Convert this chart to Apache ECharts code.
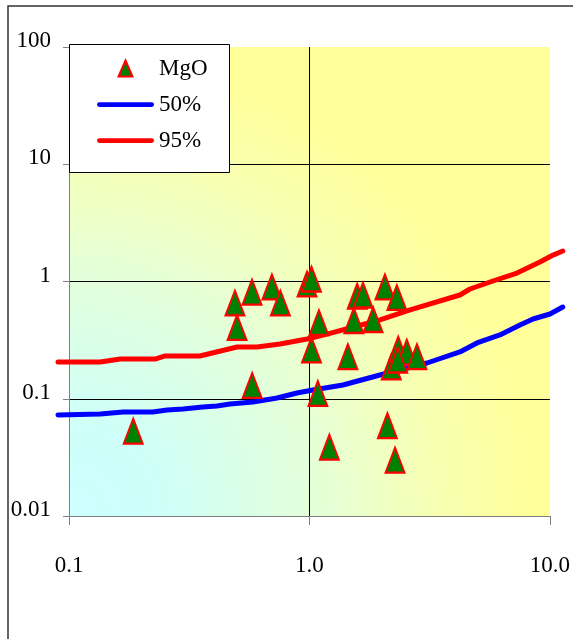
<!DOCTYPE html>
<html lang="en">
<head>
    <meta charset="UTF-8">
    <title>MgO</title>
    <script src="https://cdn.jsdelivr.net/npm/echarts@6/dist/echarts.min.js"></script>
    <style>
        html, body { margin: 0; padding: 0; background: #fff; }
        #chart { width: 573px; height: 639px; }
    </style>
</head>
<body>
    <div id="chart"></div>
    <script>
        // 数据点 (MgO)
        const mgoX = [0.185, 0.49, 0.50, 0.577, 0.578, 0.698, 0.757, 0.977, 1.02, 1.02, 1.095, 1.084, 1.21,
            1.445, 1.53, 1.58, 1.67, 1.84, 2.06, 2.31, 2.11, 2.27, 2.19, 2.34, 2.54, 2.80, 2.33];
        const mgoY = [0.053, 0.656, 0.406, 0.813, 0.130, 0.90, 0.656, 0.953, 1.05, 0.261, 0.447, 0.111, 0.0387,
            0.229, 0.465, 0.75, 0.767, 0.474, 0.90, 0.731, 0.059, 0.030, 0.187, 0.265, 0.25, 0.229, 0.214];

        // 50% 曲线
        const p50X = [0.090, 0.135, 0.168, 0.223, 0.256, 0.298, 0.360, 0.412, 0.467, 0.582, 0.733, 0.887,
            1.034, 1.377, 1.963, 3.08, 4.22, 4.97, 6.19, 7.50, 8.50, 10.0, 11.3];
        const p50Y = [0.0726, 0.0741, 0.0771, 0.0771, 0.0802, 0.0818, 0.085, 0.0867, 0.0901, 0.0937, 0.1014, 0.112,
            0.1187, 0.131, 0.1595, 0.2018, 0.2507, 0.299, 0.350, 0.426, 0.479, 0.528, 0.606];

        // 95% 曲线
        const p95X = [0.090, 0.135, 0.163, 0.228, 0.251, 0.350, 0.500, 0.605, 0.754, 0.977, 1.183, 1.473,
            1.963, 2.62, 4.22, 4.65, 5.79, 7.29, 9.08, 10.3, 11.3];
        const p95Y = [0.2056, 0.2056, 0.218, 0.218, 0.2316, 0.2316, 0.276, 0.276, 0.293, 0.323, 0.356, 0.401,
            0.470, 0.572, 0.767, 0.863, 1.01, 1.18, 1.466, 1.68, 1.82];

        const legendNames = ['MgO', '50%', '95%'];

        const zip = (xs, ys) => xs.map((x, i) => [x, ys[i]]);
        const font = 'Liberation Serif, Times New Roman, serif';

        // 主坐标区: x 0.1~10 (69px ~ 550px), 每个数量级 240.5px
        const decadePx = 240.5;
        const plotLeft = 69;
        // 曲线超出坐标轴范围, 用一个更宽的隐藏坐标区画
        const lineMin = 0.09, lineMax = 11.545;
        const lineLeft = plotLeft + decadePx * (Math.log10(lineMin) + 1);
        const lineRight = plotLeft + decadePx * (Math.log10(lineMax) + 1);

        const lineIcon = 'path://M5,0L115,0A5,5 0 0 1 115,10L5,10A5,5 0 0 1 5,0Z';
        const triIcon = 'path://M50,0L100,115L0,115Z';

        const chart = echarts.init(document.getElementById('chart'));

        const option = {
            animation: false,
            grid: [
                {
                    left: plotLeft, top: 47, right: 23, bottom: 123,
                    show: true,
                    borderWidth: 0,
                    backgroundColor: new echarts.graphic.RadialGradient(0, 1, 1, [
                        { offset: 0, color: '#ccffff' },
                        { offset: 0.2, color: '#cefff8' },
                        { offset: 0.5, color: '#e2ffdc' },
                        { offset: 0.8, color: '#f8ffb0' },
                        { offset: 1, color: '#ffff99' }
                    ])
                },
                { left: lineLeft, top: 47, right: 573 - lineRight, bottom: 123, show: false }
            ],
            xAxis: [
                {
                    type: 'log',
                    logBase: 10,
                    min: 0.1,
                    max: 10,
                    gridIndex: 0,
                    axisLine: { lineStyle: { color: '#808080', width: 1 } },
                    axisTick: { show: true, length: 9, lineStyle: { color: '#808080' } },
                    minorTick: { show: false },
                    splitLine: { show: true, showMinLine: false, showMaxLine: false, lineStyle: { color: '#000', width: 1 } },
                    axisLabel: {
                        margin: 38,
                        fontFamily: font,
                        fontSize: 23,
                        color: '#000',
                        formatter: v => v.toFixed(1)
                    }
                },
                { type: 'log', logBase: 10, min: lineMin, max: lineMax, gridIndex: 1, show: false }
            ],
            yAxis: [
                {
                    type: 'log',
                    logBase: 10,
                    min: 0.01,
                    max: 100,
                    gridIndex: 0,
                    axisLine: { show: true, lineStyle: { color: '#808080', width: 1 } },
                    axisTick: { show: true, length: 6, lineStyle: { color: '#808080' } },
                    splitLine: { show: true, showMinLine: false, showMaxLine: false, lineStyle: { color: '#000', width: 1 } },
                    axisLabel: {
                        margin: 18,
                        verticalAlign: 'bottom',
                        lineHeight: 12,
                        fontFamily: font,
                        fontSize: 23,
                        color: '#000',
                        formatter: v => v >= 1 ? String(Math.round(v)) : String(+v.toPrecision(1))
                    }
                },
                { type: 'log', logBase: 10, min: 0.01, max: 100, gridIndex: 1, show: false }
            ],
            legend: {
                orient: 'vertical',
                left: 97,
                top: 57,
                padding: 0,
                itemWidth: 57,
                itemHeight: 16,
                itemGap: 13,
                z: 11,
                data: [
                    { name: legendNames[0], icon: triIcon },
                    { name: legendNames[1], icon: lineIcon },
                    { name: legendNames[2], icon: lineIcon }
                ],
                textStyle: { fontFamily: font, fontSize: 23, color: '#000' }
            },
            graphic: [
                {
                    type: 'rect',
                    z: 10,
                    shape: { x: 69.5, y: 44.5, width: 160, height: 128 },
                    style: { fill: '#fff', stroke: '#000', lineWidth: 1 }
                },
                {
                    type: 'rect',
                    z: 10,
                    silent: true,
                    shape: { x: 8, y: 6, width: 700, height: 800 },
                    style: { fill: 'none', stroke: '#333', lineWidth: 1.5 }
                }
            ],
            series: [
                {
                    name: 'MgO',
                    type: 'scatter',
                    xAxisIndex: 0,
                    yAxisIndex: 0,
                    data: zip(mgoX, mgoY),
                    symbol: 'triangle',
                    symbolSize: [19, 25],
                    itemStyle: { color: '#008000', borderColor: '#ff0000', borderWidth: 2, opacity: 1 },
                    z: 4
                },
                {
                    name: '50%',
                    type: 'line',
                    xAxisIndex: 1,
                    yAxisIndex: 1,
                    data: zip(p50X, p50Y),
                    showSymbol: false,
                    symbol: 'none',
                    clip: false,
                    lineStyle: { color: '#0000ff', width: 5, cap: 'round', join: 'round' },
                    itemStyle: { color: '#0000ff' },
                    z: 3
                },
                {
                    name: '95%',
                    type: 'line',
                    xAxisIndex: 1,
                    yAxisIndex: 1,
                    data: zip(p95X, p95Y),
                    showSymbol: false,
                    symbol: 'none',
                    clip: false,
                    lineStyle: { color: '#ff0000', width: 5, cap: 'round', join: 'round' },
                    itemStyle: { color: '#ff0000' },
                    z: 3
                }
            ]
        };

        chart.setOption(option);
    </script>
</body>
</html>
